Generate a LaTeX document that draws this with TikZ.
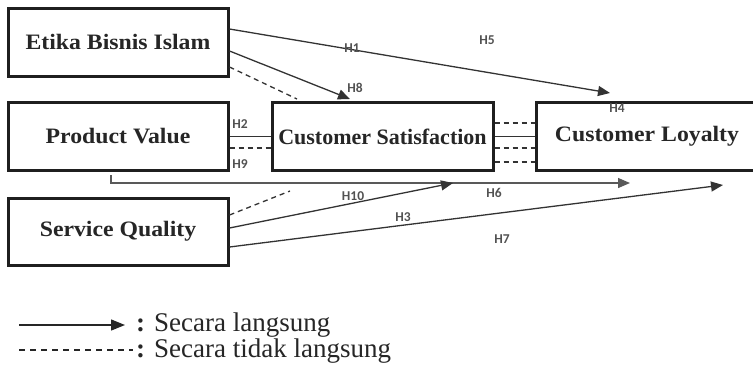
\documentclass[tikz,border=0pt]{standalone}
\usepackage{fontspec}
\setmainfont{Liberation Serif}
\newfontfamily\boxfont{Liberation Serif}[FakeStretch=1.08]
\newfontfamily\boxfontnarrow{Liberation Serif}
\newfontfamily\tagfont{Carlito}
\usetikzlibrary{arrows.meta,calc}

\tikzset{
  varbox/.style={draw=black!88, line width=3pt, minimum width=220pt,
    minimum height=68pt, inner sep=0pt, text=black!85,
    font=\boxfont\bfseries\fontsize{22}{26}\selectfont},
  conn/.style={draw=black!80, line width=1.3pt},
  arr/.style={conn, -{Triangle[length=12pt,width=10pt]}},
  dashline/.style={conn, dash pattern=on 5pt off 4pt},
  hlabel/.style={font=\tagfont\bfseries\fontsize{13.5}{13.5}\selectfont,
    text=black!68, inner sep=0pt},
  legtext/.style={font=\fontsize{27}{30}\selectfont, text=black!85,
    inner sep=0pt}
}

\begin{document}
\begin{tikzpicture}[x=1pt,y=-1pt]
  \fill[white] (0,0) rectangle (753,381);
  \useasboundingbox (0,0) rectangle (753,381);
  \clip (0,0) rectangle (753,381);

  % variables
  \node[varbox] (eb) at (118,42) {Etika Bisnis Islam};
  \node[varbox] (pv) at (118,136.5) {Product Value};
  \node[varbox, minimum width=221pt,
        font=\boxfontnarrow\bfseries\fontsize{22}{26}\selectfont]
        (cs) at (382.5,136.5) {Customer Satisfaction};
  \node[varbox, minimum width=222pt] (cl) at (647,136.5) {Customer Loyalty};
  \node[varbox, minimum height=67pt] (sq) at (118,231.5) {Service Quality};

  % free arrow ends
  \coordinate (h1tip) at (610,93);
  \coordinate (h6tip) at (630,183);
  \coordinate (h10tip) at (453,183);
  \coordinate (h3tip) at (723,185);
  \coordinate (sqdash) at (290,191);

  % Etika Bisnis Islam
  \draw[arr] ([yshift=13pt]eb.east) -- (h1tip);
  \draw[arr] ([yshift=-9pt]eb.east) -- ([xshift=-32.5pt,yshift=2pt]cs.north);
  \draw[dashline] ([yshift=-25pt]eb.east) -- ([xshift=-85.5pt,yshift=2pt]cs.north);

  % Product Value
  \draw[conn] (pv.east) -- (cs.west);
  \draw[dashline] ([yshift=-11.5pt]pv.east) -- ([yshift=-11.5pt]cs.west);
  \draw[arr, draw=black!65] ([xshift=-7pt,yshift=-3pt]pv.south) |- (h6tip);

  % Customer Satisfaction -> Customer Loyalty
  \draw[conn] (cs.east) -- (cl.west);
  \foreach \d in {13.5,-11.5,-25.5}
    \draw[dashline] ([yshift=\d pt]cs.east) -- ([yshift=\d pt]cl.west);

  % Service Quality
  \draw[dashline] ([yshift=16.5pt]sq.east) -- (sqdash);
  \draw[arr] ([yshift=3.5pt]sq.east) -- (h10tip);
  \draw[arr] ([yshift=-15.5pt]sq.east) -- (h3tip);

  % hypothesis labels
  \node[hlabel] (t1) at (352,48) {H1};
  \node[hlabel] (t2) at (240,124) {H2};
  \node[hlabel] (t3) at (403,217) {H3};
  \node[hlabel] (t4) at (617,108) {H4};
  \node[hlabel] (t5) at (487,40) {H5};
  \node[hlabel] (t6) at (494,193) {H6};
  \node[hlabel] (t7) at (502,239) {H7};
  \node[hlabel] (t8) at (355,88) {H8};
  \node[hlabel] (t9) at (240,164) {H9};
  \node[hlabel] (t10) at (353,196) {H10};

  % legend
  \coordinate (la) at (19,325);
  \coordinate (lb) at (125,325);
  \coordinate (lc) at (19,350);
  \coordinate (ld) at (133,350);
  \draw[conn, draw=black!85, -{Triangle[length=14pt,width=11pt]}] (la) -- (lb);
  \draw[conn, draw=black!85, line width=1.1pt, dash pattern=on 6pt off 5pt] (lc) -- (ld);
  \node[legtext, anchor=base west] (l1) at (136,331) {\textbf{:} Secara langsung};
  \node[legtext, anchor=base west] (l2) at (136,357.5) {\textbf{:} Secara tidak langsung};
\end{tikzpicture}
\end{document}
